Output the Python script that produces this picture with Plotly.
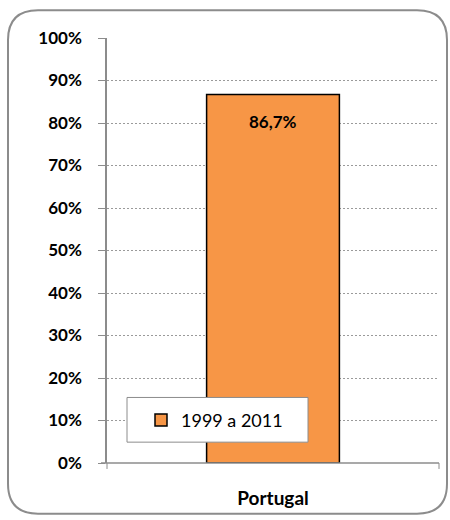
import plotly.graph_objects as go

categories = ["Portugal"]
values = [86.7]
series_name = "1999 a 2011"
y_ticks = [0, 10, 20, 30, 40, 50, 60, 70, 80, 90, 100]
y_tick_labels = [f"{t}%" for t in y_ticks]

W, H = 450, 520
L, R, T, B = 107, 11, 38, 54
pw, ph = W - L - R, H - T - B
FONT = "Lato"

def px_x(x):
    return (x - L) / pw

def px_y(y):
    return (H - B - y) / ph

fig = go.Figure()
fig.add_trace(go.Bar(
    x=categories, y=values, name=series_name,
    marker=dict(color="#F79646", line=dict(color="black", width=1.5)),
    width=0.4, showlegend=True,
))

for c, v in zip(categories, values):
    fig.add_annotation(x=c, y=v, text="<b>" + f"{v:.1f}".replace(".", ",") + "%</b>",
                       showarrow=False, yanchor="middle", yshift=-27,
                       font=dict(size=17, color="black", family=FONT))

# Outer rounded border
x0, x1 = px_x(8), px_x(447)
y0, y1 = px_y(517), px_y(10)
rx, ry = 30 / pw, 30 / ph
path = (f"M {x0+rx},{y1} L {x1-rx},{y1} Q {x1},{y1} {x1},{y1-ry} "
        f"L {x1},{y0+ry} Q {x1},{y0} {x1-rx},{y0} L {x0+rx},{y0} "
        f"Q {x0},{y0} {x0},{y0+ry} L {x0},{y1-ry} Q {x0},{y1} {x0+rx},{y1} Z")
shapes = [dict(type="path", path=path, xref="paper", yref="paper",
               line=dict(color="#8c8c8c", width=2), layer="below")]
# legend box
shapes.append(dict(type="rect", xref="paper", yref="paper",
                   x0=px_x(127), x1=px_x(308), y0=px_y(445), y1=px_y(400),
                   line=dict(color="#8c8c8c", width=1), fillcolor="white", layer="above"))
# bottom axis ticks
for xx in [107, 439]:
    shapes.append(dict(type="line", xref="paper", yref="paper",
                       x0=px_x(xx), x1=px_x(xx), y0=0, y1=px_y(472),
                       line=dict(color="#8c8c8c", width=1)))
shapes.append(dict(type="line", xref="paper", yref="paper",
                   x0=px_x(101), x1=1, y0=0, y1=0,
                   line=dict(color="#8c8c8c", width=1.5)))

fig.update_layout(
    width=W, height=H,
    margin=dict(l=L, r=R, t=T, b=B),
    paper_bgcolor="white", plot_bgcolor="white",
    shapes=shapes,
    showlegend=True,
    legend=dict(x=px_x(141), y=px_y(423), xanchor="left", yanchor="middle",
                bgcolor="rgba(0,0,0,0)", borderwidth=0,
                font=dict(size=18, color="black", family=FONT),
                itemwidth=30),
    font=dict(family=FONT, color="black"),
)
fig.update_yaxes(
    range=[0, 100], tickvals=y_ticks, ticktext=y_tick_labels,
    showgrid=True, gridcolor="#9a9a9a", griddash="2px,2px", gridwidth=1,
    showline=True, linecolor="#8c8c8c", linewidth=1.5,
    ticks="outside", ticklen=7, tickcolor="#8c8c8c",
    tickfont=dict(size=17, family=FONT, color="black", weight="bold"),
    ticklabelstandoff=13, zeroline=False,
)
fig.update_xaxes(
    showline=False, ticks="", showgrid=False,
    tickfont=dict(size=19, family=FONT, color="black", weight="bold"),
    ticklabelstandoff=22,
)
fig.write_html("out.html", config={"displayModeBar": False},
               post_script="document.body.style.margin='0';")
